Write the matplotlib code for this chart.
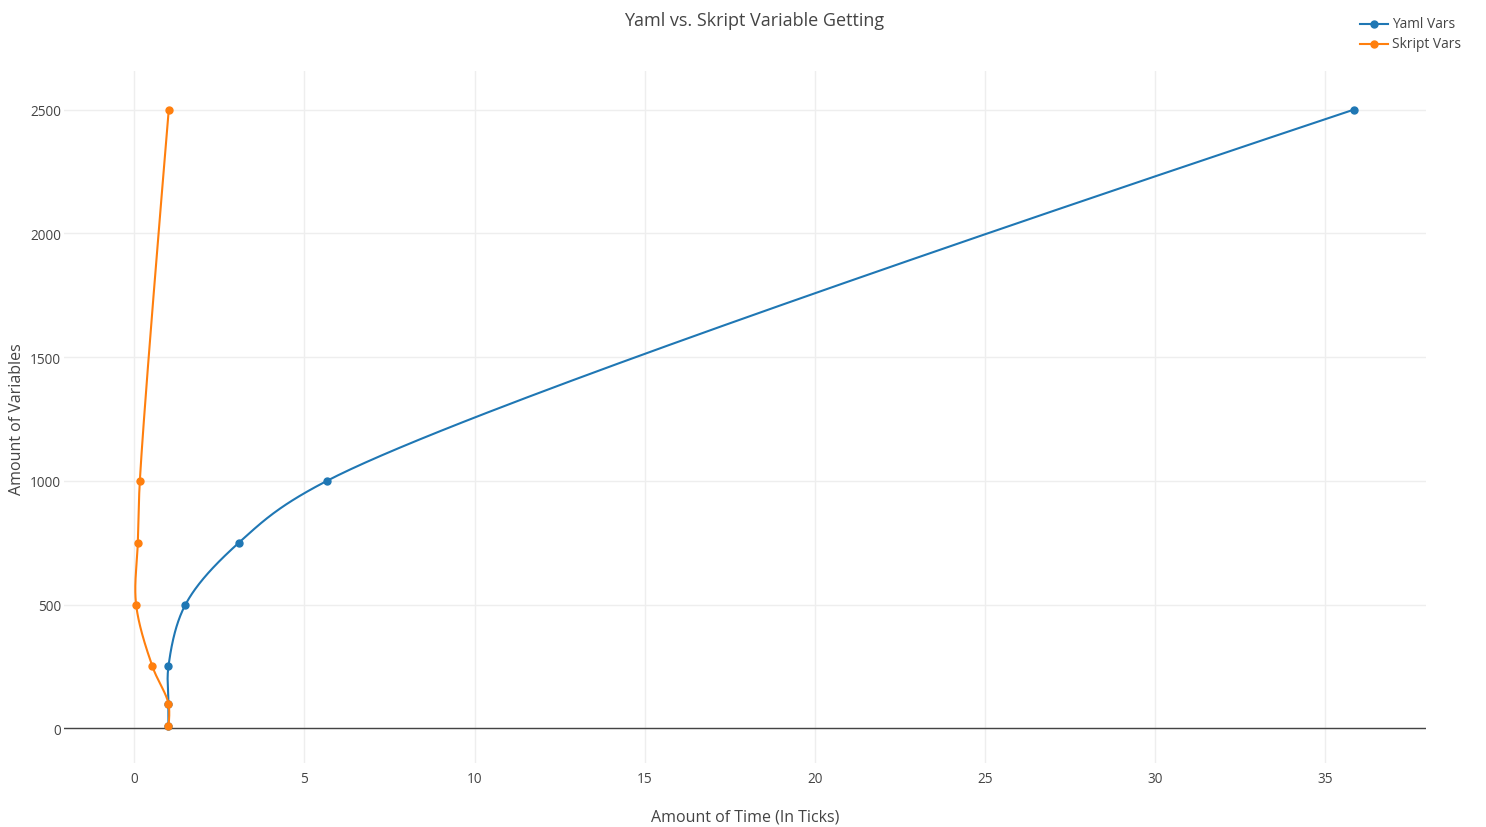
import numpy as np
import matplotlib
matplotlib.use("Agg")
import matplotlib.pyplot as plt
from matplotlib.lines import Line2D

plt.rcParams['font.family'] = ['Open Sans', 'DejaVu Sans']

# Data
yaml_x = [1.0, 1.0, 1.0, 1.5, 3.07, 5.66, 35.85]
yaml_y = [10, 100, 250, 500, 750, 1000, 2500]
skript_x = [1.0, 1.0, 0.53, 0.05, 0.10, 0.16, 1.01]
skript_y = [10, 100, 250, 500, 750, 1000, 2500]
series_names = ["Yaml Vars", "Skript Vars"]
colors = ["#1f77b4", "#ff7f0e"]
x_ticks = [0, 5, 10, 15, 20, 25, 30, 35]
y_ticks = [0, 500, 1000, 1500, 2000, 2500]

W, H = 1486, 828
fig = plt.figure(figsize=(W / 100, H / 100), dpi=100)
L, R, T, B = 64, 1426, 72, 764
ax = fig.add_axes([L / W, 1 - B / H, (R - L) / W, (B - T) / H])
ax.set_xlim(-2.07, 37.97)
ax.set_ylim(-140, 2656)

for s in ax.spines.values():
    s.set_visible(False)
ax.set_xticks(x_ticks)
ax.set_yticks(y_ticks)
ax.tick_params(length=0, colors="#444", labelsize=9.8)
ax.tick_params(axis="y", pad=2)
ax.tick_params(axis="x", pad=6)
ax.grid(True, color="#eeeeee", linewidth=1)
ax.set_axisbelow(True)
ax.axhline(0, color="#444444", linewidth=1, zorder=1.5)


def tangent(p0, p1, p2, s=1.0):
    d1 = p0 - p1
    d2 = p2 - p1
    d1a = (d1 @ d1) ** 0.25
    d2a = (d2 @ d2) ** 0.25
    num = (d2a * d2a * d1 - d1a * d1a * d2) * s
    den1 = 3 * d2a * (d1a + d2a)
    den2 = 3 * d1a * (d1a + d2a)
    a = p1 + (num / den1 if den1 else 0)
    b = p1 - (num / den2 if den2 else 0)
    return a, b


def spline(xs, ys):
    pts = ax.transData.transform(np.column_stack([xs, ys]))
    n = len(pts)
    tans = [tangent(pts[i - 1], pts[i], pts[i + 1]) for i in range(1, n - 1)]
    t = np.linspace(0, 1, 60)[:, None]
    out = []
    P0, C, P1 = pts[0], tans[0][0], pts[1]
    out.append((1 - t) ** 2 * P0 + 2 * (1 - t) * t * C + t ** 2 * P1)
    for i in range(2, n - 1):
        P0, C1, C2, P1 = pts[i - 1], tans[i - 2][1], tans[i - 1][0], pts[i]
        out.append((1 - t) ** 3 * P0 + 3 * (1 - t) ** 2 * t * C1
                   + 3 * (1 - t) * t ** 2 * C2 + t ** 3 * P1)
    P0, C, P1 = pts[n - 2], tans[n - 3][1], pts[n - 1]
    out.append((1 - t) ** 2 * P0 + 2 * (1 - t) * t * C + t ** 2 * P1)
    dense = np.vstack(out)
    return ax.transData.inverted().transform(dense)


for i, (xs, ys) in enumerate([(yaml_x, yaml_y), (skript_x, skript_y)]):
    curve = spline(xs, ys)
    ax.plot(curve[:, 0], curve[:, 1], color=colors[i], linewidth=1.5,
            zorder=3 + 2 * i, solid_capstyle="round")
    ax.plot(xs, ys, linestyle="none", marker="o", markersize=5,
            color=colors[i], zorder=4 + 2 * i)

fig.text(754 / W, 1 - 21.5 / H, "Yaml vs. Skript Variable Getting",
         ha="center", va="center", fontsize=13, color="#444")
fig.text(745 / W, 1 - 818 / H, "Amount of Time (In Ticks)",
         ha="center", va="center", fontsize=11.5, color="#444")
fig.text(17 / W, 1 - 419 / H, "Amount of Variables", rotation=90,
         ha="center", va="center", fontsize=11.5, color="#444")

# Legend
for i, name in enumerate(series_names):
    yy = 1 - (24.5 + 20.5 * i) / H
    fig.add_artist(Line2D([1360 / W, 1388 / W], [yy, yy], color=colors[i],
                          linewidth=1.5, transform=fig.transFigure))
    fig.add_artist(Line2D([1374 / W], [yy], marker="o", markersize=5,
                          color=colors[i], transform=fig.transFigure))
    fig.text(1392 / W, yy + 0.5 / H, name, ha="left", va="center",
             fontsize=9.9, color="#444")

fig.savefig("out.png", dpi=100)
